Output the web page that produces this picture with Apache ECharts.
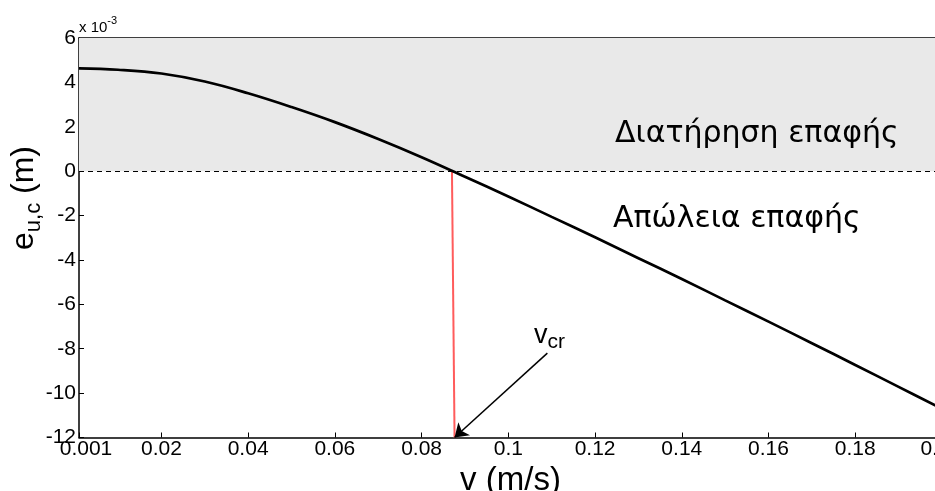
<!DOCTYPE html>
<html>
<head>
<meta charset="utf-8">
<script src="https://cdn.jsdelivr.net/npm/echarts@6/dist/echarts.min.js"></script>
<style>
  html, body { margin: 0; padding: 0; background: #fff; }
  #chart { width: 935px; height: 491px; }
</style>
</head>
<body>
<div id="chart"></div>
<script>
// Contact eccentricity e_u,c (in units of 1e-3 m) against velocity v (m/s)
const velocity = [0.001, 0.01, 0.02, 0.03, 0.04, 0.05, 0.06, 0.07, 0.08, 0.09,
                  0.10, 0.11, 0.12, 0.13, 0.14, 0.15, 0.16, 0.17, 0.18, 0.19, 0.20];
const eccentricity = [4.63, 4.57, 4.40, 4.04, 3.51, 2.89, 2.21, 1.45, 0.63, -0.25,
                      -1.14, -2.06, -2.98, -3.92, -4.86, -5.82, -6.78, -7.75, -8.73, -9.72, -10.71];

// Critical velocity marker (slightly slanted vertical line)
const criticalV = [0.0870, 0.0876];
const criticalE = [0, -12];

// Annotation arrow pointing at the critical velocity
const arrowTail = [0.109, -8.2];
const arrowHead = [0.0876, -12];

// Axis ticks
const xTicks = [0.001, 0.02, 0.04, 0.06, 0.08, 0.10, 0.12, 0.14, 0.16, 0.18, 0.20];
const xTickLabels = ['0.001', '0.02', '0.04', '0.06', '0.08', '0.1', '0.12', '0.14', '0.16', '0.18', '0.2'];
const yRange = [-12, 6];
const yStep = 2;

const FONT = '"Liberation Sans", Arial, Helvetica, sans-serif';
const NOTE_FONT = '"DejaVu Sans", Verdana, sans-serif';

// text width helper for composing sub/superscripts
const measureCtx = document.createElement('canvas').getContext('2d');
function textWidth(str, size, family) {
  measureCtx.font = size + 'px ' + family;
  return measureCtx.measureText(str).width;
}
// place a text so that its alphabetic baseline lands at y
function baselineText(str, x, y, size, family, extra) {
  return Object.assign({
    type: 'text', z: 100, x: x, y: y - 0.35 * size, silent: true,
    style: { text: str, font: size + 'px ' + family, fill: '#000', textAlign: 'left', textVerticalAlign: 'middle' }
  }, extra || {});
}

const chart = echarts.init(document.getElementById('chart'), null, { renderer: 'canvas' });

const curve = velocity.map((v, i) => [v, eccentricity[i]]);
const critical = criticalV.map((v, i) => [v, criticalE[i]]);

const lastTick = xTicks.length - 1;
function xLabel(val) {
  const i = xTicks.findIndex(t => Math.abs(t - val) < 1e-9);
  if (i < 0) return '';
  if (i === 0) return '{first|' + xTickLabels[i] + '}';
  if (i === lastTick) return '{last|' + xTickLabels[i] + '}';
  return xTickLabels[i];
}

const frameLine = { show: true, onZero: false, lineStyle: { color: '#000', width: 1.5 } };
const xTick = { show: true, inside: true, length: 5, customValues: xTicks, lineStyle: { color: '#000', width: 1 } };
const yTick = { show: true, inside: true, length: 5, lineStyle: { color: '#000', width: 1 } };

// y-axis title: e with subscript "u,c", followed by " (m)", reading upwards
const yTitleSize = 32, yTitleSub = 22;
const wE = textWidth('e', yTitleSize, FONT);
const wSub = textWidth('u,c', yTitleSub, FONT);
const yTitle = {
  type: 'group', x: 35, y: 250, rotation: Math.PI / 2, z: 100,
  children: [
    baselineText('e', 0, 0, yTitleSize, FONT),
    baselineText('u,c', wE, 6.5, yTitleSub, FONT),
    baselineText(' (m)', wE + wSub, 0, yTitleSize, FONT)
  ]
};

// exponent marker above the y axis
const wTen = textWidth('x 10', 15, FONT);
// v_cr annotation
const wV = textWidth('v', 27, FONT);

const tickLabelRich = {
  first: { padding: [0, 0, 0, 14], fontSize: 21, fontFamily: FONT, color: '#000' },
  last: { padding: [0, 14, 0, 0], fontSize: 21, fontFamily: FONT, color: '#000' }
};

const option = {
  animation: false,
  backgroundColor: '#fff',
  grid: { left: 79, right: -7, top: 38, bottom: 53.5, containLabel: false, outerBoundsMode: 'none' },
  xAxis: [
    {
      type: 'value', min: 0.001, max: 0.2, position: 'bottom',
      axisLine: frameLine, axisTick: xTick, splitLine: { show: false },
      axisLabel: {
        customValues: xTicks, formatter: xLabel, color: '#000',
        fontSize: 21, fontFamily: FONT, margin: 1, showMinLabel: true, showMaxLabel: true,
        hideOverlap: false, rich: tickLabelRich
      },
      name: 'v (m/s)', nameLocation: 'middle', nameGap: 27,
      nameTextStyle: { fontSize: 33, fontFamily: FONT, color: '#000' }
    },
    {
      type: 'value', min: 0.001, max: 0.2, position: 'top',
      axisLine: frameLine, axisTick: xTick, axisLabel: { show: false }, splitLine: { show: false }
    }
  ],
  yAxis: [
    {
      type: 'value', min: yRange[0], max: yRange[1], interval: yStep, position: 'left',
      axisLine: frameLine, axisTick: yTick, splitLine: { show: false },
      axisLabel: { color: '#000', fontSize: 21, fontFamily: FONT, margin: 3 }
    },
    {
      type: 'value', min: yRange[0], max: yRange[1], interval: yStep, position: 'right',
      axisLine: frameLine, axisTick: yTick, axisLabel: { show: false }, splitLine: { show: false }
    }
  ],
  series: [
    {
      name: 'e_uc', type: 'line', data: curve, smooth: 0.4,
      showSymbol: false, z: 4,
      lineStyle: { color: '#000', width: 2.7 },
      markArea: {
        silent: true,
        itemStyle: { color: '#e9e9e9', opacity: 1 },
        data: [[{ yAxis: 0 }, { yAxis: yRange[1] }]]
      },
      markLine: {
        silent: true, symbol: 'none', label: { show: false },
        lineStyle: { color: '#000', width: 1, type: [5, 4] },
        data: [{ yAxis: 0 }]
      }
    },
    {
      name: 'v_cr', type: 'line', data: critical, showSymbol: false, z: 3,
      lineStyle: { color: '#ff5c5c', width: 2 },
      markLine: {
        silent: true, symbol: ['none', 'arrow'], symbolSize: 13,
        label: { show: false },
        lineStyle: { color: '#000', width: 1.5, type: 'solid' },
        data: [[{ coord: arrowTail }, { coord: arrowHead }]]
      }
    }
  ],
  graphic: [
    baselineText('x 10', 79, 33, 15, FONT),
    baselineText('-3', 79 + wTen, 25, 11, FONT),
    yTitle,
    baselineText('Διατήρηση επαφής', 615, 145, 30, NOTE_FONT),
    baselineText('Απώλεια επαφής', 613, 230, 30, NOTE_FONT),
    baselineText('v', 534, 345, 27, FONT),
    baselineText('cr', 534 + wV, 350, 21, FONT)
  ]
};

chart.setOption(option);
</script>
</body>
</html>
